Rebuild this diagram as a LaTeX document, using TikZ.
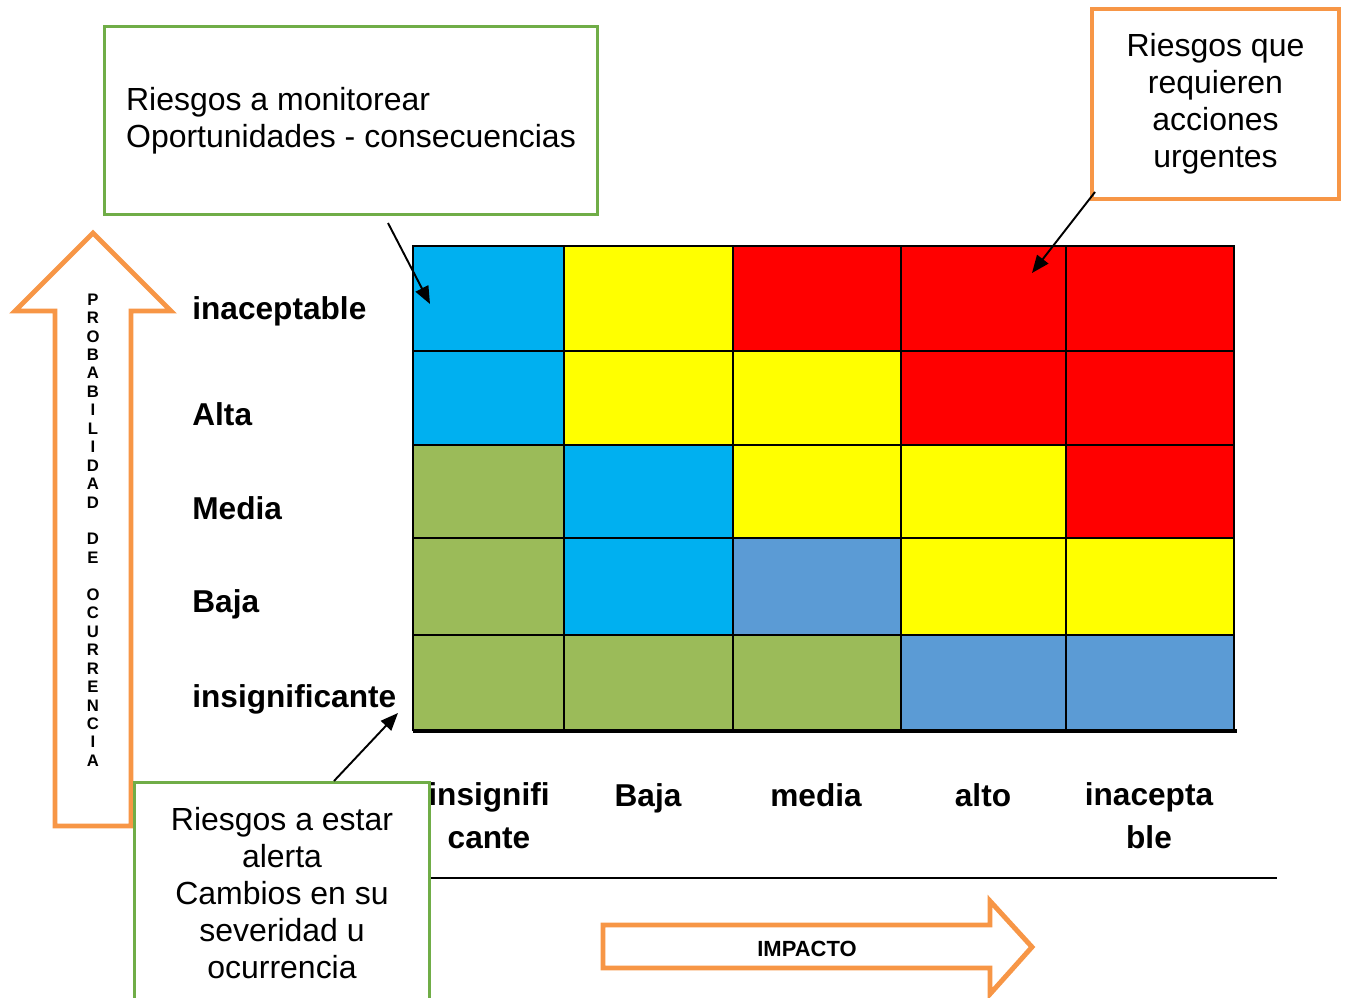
\documentclass[tikz,border=0pt]{standalone}
\usepackage{fontspec}
\setmainfont{Liberation Sans}
\usetikzlibrary{arrows.meta}
\definecolor{celeste}{HTML}{00B0F0}
\definecolor{amarillo}{HTML}{FFFF00}
\definecolor{rojo}{HTML}{FF0000}
\definecolor{verdeoliva}{HTML}{9BBB59}
\definecolor{azulacero}{HTML}{5B9BD5}
\definecolor{naranja}{HTML}{F79646}
\definecolor{verdecaja}{HTML}{70AD47}
\tikzset{
  etiqueta/.style={font=\fontsize{18}{24}\selectfont\bfseries, inner sep=0pt},
  caja/.style={draw, fill=white, align=center, font=\fontsize{18.2}{21}\selectfont},
  flecha/.style={line width=1.1pt, -{Triangle[length=10pt, width=8pt]}},
  bloque/.style={draw=naranja, line width=2.8pt, fill=white, line join=miter},
}
\begin{document}
\begin{tikzpicture}[x=0.02cm, y=-0.02cm]
\useasboundingbox (0,0) rectangle (1347,998);
\clip (0,0) rectangle (1347,998);
\def\xs{{413,564,733,901,1066,1234}}
\def\ys{{246,351,445,538,635,731}}
\foreach \fila [count=\nf from 0] in {{celeste,amarillo,rojo,rojo,rojo},
  {celeste,amarillo,amarillo,rojo,rojo},
  {verdeoliva,celeste,amarillo,amarillo,rojo},
  {verdeoliva,celeste,azulacero,amarillo,amarillo},
  {verdeoliva,verdeoliva,verdeoliva,azulacero,azulacero}}
  \foreach \tono [count=\nc from 0] in \fila {
    \pgfmathsetmacro\xa{\xs[\nc]}
    \pgfmathsetmacro\xb{\xs[\nc+1]}
    \pgfmathsetmacro\ya{\ys[\nf]}
    \pgfmathsetmacro\yb{\ys[\nf+1]}
    \fill [\tono] (\xa,\ya) rectangle (\xb,\yb);
  }
\foreach \x in {564,733,901,1066} \draw [line width=1.4pt] (\x,246) -- (\x,731);
\foreach \y in {351,445,538,635} \draw [line width=1.4pt] (413,\y) -- (1234,\y);
\draw [line width=1.4pt] (413,731) -- (413,246) -- (1234,246) -- (1234,731);
\draw [line width=2.5pt] (413,731) -- (1237,731);

\node [etiqueta, anchor=base west] (f5) at (192,319) {inaceptable};
\node [etiqueta, anchor=base west] (f4) at (192,425) {Alta};
\node [etiqueta, anchor=base west] (f3) at (192,519) {Media};
\node [etiqueta, anchor=base west] (f2) at (192,612) {Baja};
\node [etiqueta, anchor=base west] (f1) at (192,707) {insignificante};

\node [etiqueta, anchor=base, align=center] (c1) at (489,848) {insignifi\\cante};
\node [etiqueta, anchor=base] (c2) at (648,806) {Baja};
\node [etiqueta, anchor=base] (c3) at (816,806) {media};
\node [etiqueta, anchor=base] (c4) at (983,806) {alto};
\node [etiqueta, anchor=base, align=center] (c5) at (1149,848) {inacepta\\ble};
\draw [line width=1.2pt] (430,878) -- (1277,878);

\draw [bloque] (55,826) -- (55,311) -- (15,311) -- (93,233) -- (171,311) -- (131,311) -- (131,826) -- cycle;
\node [font=\fontsize{9.5}{10.5}\selectfont\bfseries, align=center, inner sep=0pt] (prob) at (93,530)
  {P\\R\\O\\B\\A\\B\\I\\L\\I\\D\\A\\D\\~\\D\\E\\~\\O\\C\\U\\R\\R\\E\\N\\C\\I\\A};
\draw [bloque] (603,925) -- (990,925) -- (990,901) -- (1032,947) -- (990,994) -- (990,968) -- (603,968) -- cycle;
\node [font=\fontsize{12.5}{14}\selectfont\bfseries] (impacto) at (807,949) {IMPACTO};

\node [caja, draw=verdecaja, line width=1.7pt, minimum width=9.88cm, minimum height=3.78cm, align=left] (monitorear) at (351,120.5) {Riesgos a monitorear\\Oportunidades - consecuencias};
\node [caja, draw=naranja, line width=2.2pt, minimum width=4.94cm, minimum height=3.8cm] (urgentes) at (1215.5,104) {Riesgos que\\requieren\\acciones\\urgentes};
\node [caja, draw=verdecaja, line width=1.7pt, minimum width=5.92cm, minimum height=4.44cm] (alerta) at (282,893) {Riesgos a estar\\alerta\\Cambios en su\\severidad u\\ocurrencia};

\coordinate (m1) at (388,223);
\coordinate (m2) at (430,304);
\coordinate (u1) at (1095,192);
\coordinate (u2) at (1032,273);
\coordinate (a1) at (334,781);
\coordinate (a2) at (398,713);
\draw [flecha] (m1) -- (m2);
\draw [flecha] (u1) -- (u2);
\draw [flecha] (a1) -- (a2);
\end{tikzpicture}
\end{document}
